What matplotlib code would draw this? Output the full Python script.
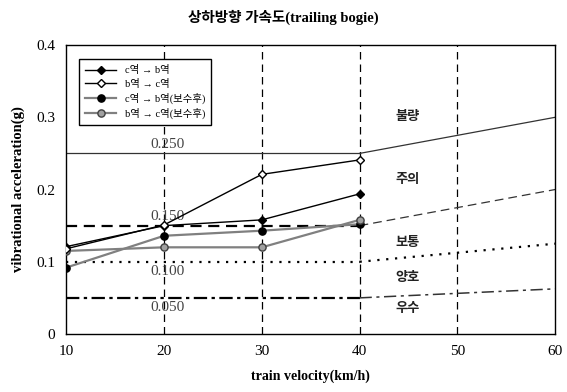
import matplotlib
matplotlib.use('Agg')
import matplotlib.pyplot as plt

plt.rcParams['font.family'] = ['Liberation Serif', 'Noto Sans CJK KR', 'DejaVu Sans']

# measured series
speed = [10, 20, 30, 40]
c_to_b = [0.121, 0.150, 0.158, 0.194]
b_to_c = [0.118, 0.151, 0.221, 0.241]
c_to_b_fix = [0.092, 0.136, 0.143, 0.152]
b_to_c_fix = [0.115, 0.120, 0.120, 0.158]

# criteria lines
crit_x = [10, 40, 60]
crit_bad = [0.25, 0.25, 0.30]
crit_warn = [0.15, 0.15, 0.20]
crit_norm = [0.10, 0.10, 0.125]
crit_good = [0.05, 0.05, 0.0625]
crit_labels = ['0.250', '0.150', '0.100', '0.050']
crit_values = [0.25, 0.15, 0.10, 0.05]

zone_names = ['불량', '주의', '보통', '양호', '우수']
zone_y = [0.300, 0.213, 0.126, 0.078, 0.034]

fig = plt.figure(figsize=(5.67, 3.92), dpi=100)
ax = fig.add_axes([0.117, 0.148, 0.862, 0.737])

# vertical dashed grid
for gx in [20, 30, 40, 50]:
    ax.axvline(gx, color='black', lw=0.9, ls=(0, (6, 4)), zorder=1)

# criteria lines (thick part up to 40, thinner extension)
ax.plot(crit_x[:2], crit_bad[:2], color='#333333', lw=0.9, zorder=2)
ax.plot(crit_x[1:], crit_bad[1:], color='#333333', lw=0.9, zorder=2)
ax.plot(crit_x[:2], crit_warn[:2], color='black', lw=1.6, ls=(0, (5, 3)), zorder=2)
ax.plot(crit_x[1:], crit_warn[1:], color='#333333', lw=0.9, ls=(0, (7, 4)), zorder=2)
ax.plot(crit_x[:2], crit_norm[:2], color='black', lw=1.6, ls=(0, (1, 3)), zorder=2)
ax.plot(crit_x[1:], crit_norm[1:], color='black', lw=1.6, ls=(0, (1, 3)), zorder=2)
ax.plot(crit_x[:2], crit_good[:2], color='black', lw=1.6, ls=(0, (6, 2, 1.5, 2)), zorder=2)
ax.plot(crit_x[1:], crit_good[1:], color='#333333', lw=1.1, ls=(0, (8, 3, 2, 3)), zorder=2)

for lab, v in zip(crit_labels, crit_values):
    off = 0.004 if v in (0.25, 0.15) else -0.004
    ax.text(20.4, v + off, lab, ha='center', va='bottom' if off > 0 else 'top',
            fontsize=11, color='#444444', zorder=3)

for name, y in zip(zone_names, zone_y):
    ax.text(44.9, y, name, ha='center', va='center', fontsize=9.5,
            fontweight='bold', color='#222222', zorder=3)

# data series
ax.plot(speed, c_to_b, color='black', lw=1.0, marker='D', ms=3.8,
        mfc='black', mec='black', label='c역 → b역', zorder=5)
ax.plot(speed, b_to_c, color='black', lw=1.0, marker='D', ms=4.2,
        mfc='white', mec='black', label='b역 → c역', zorder=5)
ax.plot(speed, c_to_b_fix, color='#808080', lw=1.6, marker='o', ms=5.2,
        mfc='black', mec='black', label='c역 → b역(보수후)', zorder=4)
ax.plot(speed, b_to_c_fix, color='#808080', lw=1.6, marker='o', ms=5.2,
        mfc='#a0a0a0', mec='#404040', label='b역 → c역(보수후)', zorder=4)

ax.set_xlim(10, 60)
ax.set_ylim(0, 0.4)
ax.set_xticks([10, 20, 30, 40, 50, 60])
ax.set_yticks([0, 0.1, 0.2, 0.3, 0.4])
ax.set_yticklabels(['0', '0.1', '0.2', '0.3', '0.4'])
ax.tick_params(length=0, labelsize=11, pad=8)
for s in ax.spines.values():
    s.set_linewidth(1.0)

ax.set_xlabel('train velocity(km/h)', fontsize=10, fontweight='bold', labelpad=8)
ax.set_ylabel('vibrational acceleration(g)', fontsize=10.5, fontweight='bold', labelpad=8)
fig.suptitle('상하방향 가속도(trailing bogie)', fontsize=10.5, fontweight='bold', y=0.975)

leg = ax.legend(loc='upper left', bbox_to_anchor=(0.015, 0.97), fontsize=7.5,
                frameon=True, fancybox=False, edgecolor='black', framealpha=1,
                handlelength=3, labelspacing=0.35, borderpad=0.6, shadow=False)
leg.get_frame().set_linewidth(1.0)

fig.savefig('out.png', dpi=100)
